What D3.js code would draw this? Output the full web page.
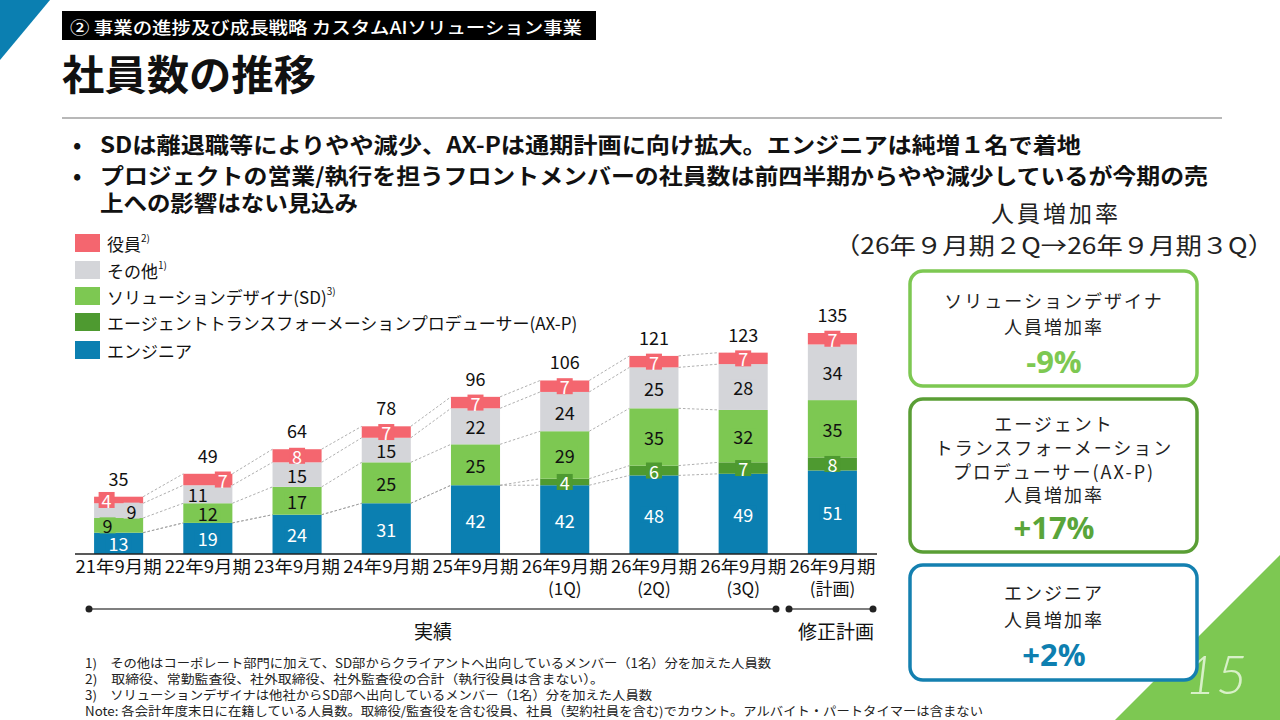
<!DOCTYPE html>
<html><head><meta charset="utf-8">
<script src="https://cdn.jsdelivr.net/npm/d3@7"></script>
<style>
body{margin:0;background:#fff}
svg{display:block}
text{font-family:"Noto Sans CJK JP","Noto Sans",sans-serif}
</style>
</head><body>
<svg id="c" width="1280" height="720"></svg>
<script>
// ---------- data ----------
const categories = ["21年9月期","22年9月期","23年9月期","24年9月期","25年9月期","26年9月期","26年9月期","26年9月期","26年9月期"];
const subLabels = ["","","","","","(1Q)","(2Q)","(3Q)","(計画)"];
const engineer = [13,19,24,31,42,42,48,49,51];
const axp      = [0,0,0,0,0,4,6,7,8];
const sd       = [9,12,17,25,25,29,35,32,35];
const other    = [9,11,15,15,22,24,25,28,34];
const officer  = [4,7,8,7,7,7,7,7,7];
const totals   = [35,49,64,78,96,106,121,123,135];
const seriesKeys  = ["engineer","axp","sd","other","officer"];
const legendNames = ["役員","その他","ソリューションデザイナ(SD)","エージェントトランスフォーメーションプロデューサー(AX-P)","エンジニア"];
const legendSups  = ["2)","1)","3)","",""];
const rateTitles  = [["ソリューションデザイナ","人員増加率"],["エージェント","トランスフォーメーション","プロデューサー(AX-P)","人員増加率"],["エンジニア","人員増加率"]];
const rateValues  = ["-9%","+17%","+2%"];
const bullets = ["SDは離退職等によりやや減少、AX-Pは通期計画に向け拡大。エンジニアは純増１名で着地",
  "プロジェクトの営業/執行を担うフロントメンバーの社員数は前四半期からやや減少しているが今期の売",
  "上への影響はない見込み"];
const footnotes = ["1)　その他はコーポレート部門に加えて、SD部からクライアントへ出向しているメンバー（1名）分を加えた人員数",
  "2)　取締役、常勤監査役、社外取締役、社外監査役の合計（執行役員は含まない）。",
  "3)　ソリューションデザイナは他社からSD部へ出向しているメンバー（1名）分を加えた人員数",
  "Note: 各会計年度末日に在籍している人員数。取締役/監査役を含む役員、社員（契約社員を含む)でカウント。アルバイト・パートタイマーは含まない"];

// ---------- styles ----------
const colors = {engineer:"#0b7fb1", axp:"#4e9a30", sd:"#7dc852", other:"#d4d5d9", officer:"#f4666f"};
const legendColors = [colors.officer, colors.other, colors.sd, colors.axp, colors.engineer];
const labelColors = {engineer:"#fff", axp:"#fff", sd:"#111", other:"#111", officer:"#fff"};
const labelNudge = {"0-officer":-12,"0-other":13,"0-sd":-11,"1-officer":15,"1-other":-10};

const svg = d3.select("#c");

// decorations
svg.append("path").attr("d","M0,0 L50,0 L0,60 Z").attr("fill","#0b7fb1");
svg.append("path").attr("d","M1280,555 L1280,720 L1115,720 Z").attr("fill","#7dc852");
svg.append("text").attr("x",1216).attr("y",694).attr("text-anchor","middle")
  .attr("font-size",54).attr("font-style","italic").attr("font-weight",300)
  .style("font-family","Lato, 'Open Sans', sans-serif").attr("fill","#d8f0c8").text("15");

// header
svg.append("rect").attr("x",62).attr("y",11).attr("width",534).attr("height",29).attr("fill","#000");
svg.append("text").attr("x",70).attr("y",26).attr("dominant-baseline","central")
  .attr("font-size",17).attr("font-weight",500).attr("fill","#fff")
  .attr("textLength",512).attr("lengthAdjust","spacingAndGlyphs")
  .text("② 事業の進捗及び成長戦略 カスタムAIソリューション事業");
svg.append("text").attr("x",62).attr("y",72).attr("dominant-baseline","central")
  .attr("font-size",41).attr("font-weight",700).attr("fill","#111")
  .attr("textLength",254).attr("lengthAdjust","spacingAndGlyphs").text("社員数の推移");
svg.append("line").attr("x1",62).attr("x2",1222).attr("y1",118).attr("y2",118).attr("stroke","#a0a0a0").attr("stroke-width",1.5);

// bullets
const bulletY = [143,174,201];
const bulletLen = [981,1108,258];
bullets.forEach((b,i)=>{
  if(i<2) svg.append("text").attr("x",73).attr("y",bulletY[i]).attr("dominant-baseline","central")
    .attr("font-size",22).attr("font-weight",700).attr("fill","#111").text("•");
  svg.append("text").attr("x",100).attr("y",bulletY[i]).attr("dominant-baseline","central")
    .attr("font-size",22).attr("font-weight",700).attr("fill","#111")
    .attr("textLength",bulletLen[i]).attr("lengthAdjust","spacingAndGlyphs").text(b);
});

// legend
const legY = [243,270,296,322,350];
legendNames.forEach((n,i)=>{
  svg.append("rect").attr("x",75).attr("y",legY[i]-9).attr("width",25).attr("height",18).attr("fill",legendColors[i]);
  const t = svg.append("text").attr("x",107).attr("y",legY[i]).attr("dominant-baseline","central")
    .attr("font-size",17).attr("fill","#111");
  t.append("tspan").text(n);
  if(legendSups[i]) t.append("tspan").attr("font-size",10).attr("dy",-6).text(legendSups[i]);
});

// ---------- chart ----------
const x = d3.scaleBand().domain(d3.range(categories.length)).range([74,877]).paddingInner(0.45).paddingOuter(0.225);
const y = d3.scaleLinear().domain([0, d3.max(totals)]).range([554,333]);
const bw = x.bandwidth();
const rows = categories.map((c,i)=>({i, engineer:engineer[i], axp:axp[i], sd:sd[i], other:other[i], officer:officer[i]}));
const stack = d3.stack().keys(seriesKeys)(rows);

// connectors
const gConn = svg.append("g");
stack.forEach(layer=>{
  for(let i=0;i<7;i++){
    const a = layer[i], b = layer[i+1];
    gConn.append("line").attr("x1",x(i)+bw).attr("y1",y(a[1])).attr("x2",x(i+1)).attr("y2",y(b[1]))
      .attr("stroke","#9a9a9a").attr("stroke-width",0.8).attr("stroke-dasharray","2.5,2");
  }
});

// bars
stack.forEach(layer=>{
  svg.append("g").selectAll("rect").data(layer).join("rect")
    .attr("x",(d,i)=>x(i)).attr("width",bw)
    .attr("y",d=>y(d[1])).attr("height",d=>y(d[0])-y(d[1]))
    .attr("fill",colors[layer.key]);
});

// segment labels
const gLab = svg.append("g");
stack.forEach(layer=>{
  layer.forEach((d,i)=>{
    const v = d[1]-d[0];
    if(!v) return;
    const cx = x(i)+bw/2 + (labelNudge[i+"-"+layer.key]||0);
    const cy = (y(d[0])+y(d[1]))/2;
    const w = String(v).length*10+6;
    gLab.append("rect").attr("x",cx-w/2).attr("y",cy-8).attr("width",w).attr("height",16).attr("fill",colors[layer.key]);
    gLab.append("text").attr("x",cx).attr("y",cy).attr("text-anchor","middle").attr("dominant-baseline","central")
      .attr("font-size",18).attr("fill",labelColors[layer.key]).text(v);
  });
});

// totals
svg.append("g").selectAll("text").data(totals).join("text")
  .attr("x",(d,i)=>x(i)+bw/2).attr("y",d=>y(d)-11).attr("text-anchor","middle")
  .attr("font-size",18).attr("fill","#111").text(d=>d);

// axis
const xAxis = d3.axisBottom(x).tickSize(0).tickFormat(i=>categories[i]);
const gx = svg.append("g").attr("transform","translate(0,554)").call(xAxis);
gx.select(".domain").attr("d","M75,0H877").attr("stroke","#222").attr("stroke-width",1.5);
gx.selectAll(".tick text").attr("y",13).attr("dy","0.35em").attr("font-size",17.5).attr("fill","#111")
  .style("font-family","'Noto Sans CJK JP',sans-serif")
  .attr("textLength",86).attr("lengthAdjust","spacingAndGlyphs");
gx.selectAll(".tick").append("text").attr("y",35).attr("dy","0.35em").attr("text-anchor","middle")
  .attr("font-size",17).attr("fill","#111").text(i=>subLabels[i]);

// timeline
function seg(x1,x2,label,lx){
  svg.append("line").attr("x1",x1).attr("x2",x2).attr("y1",609).attr("y2",609).attr("stroke","#555").attr("stroke-width",1.3);
  [x1,x2].forEach(v=>svg.append("circle").attr("cx",v).attr("cy",609).attr("r",3.5).attr("fill","#222"));
  svg.append("text").attr("x",lx).attr("y",630).attr("text-anchor","middle").attr("dominant-baseline","central")
    .attr("font-size",19).attr("fill","#111").text(label);
}
seg(89,776,"実績",433);
seg(789,873,"修正計画",836);

// footnotes
const fnY = [662,678,694,710];
const fnLen = [686,519,567,898];
footnotes.forEach((f,i)=>{
  svg.append("text").attr("x",85).attr("y",fnY[i]).attr("dominant-baseline","central")
    .attr("font-size",12.5).attr("fill","#222")
    .attr("textLength",fnLen[i]).attr("lengthAdjust","spacingAndGlyphs").text(f);
});

// right panel
svg.append("text").attr("x",1056).attr("y",212).attr("text-anchor","middle").attr("dominant-baseline","central")
  .attr("font-size",23).attr("letter-spacing",3).attr("fill","#222").text("人員増加率");
svg.append("text").attr("x",1054).attr("y",244).attr("text-anchor","middle").attr("dominant-baseline","central")
  .attr("font-size",23).attr("fill","#222").attr("textLength",440).attr("lengthAdjust","spacingAndGlyphs")
  .text("（26年９月期２Q→26年９月期３Q）");

const boxes = [
  {y:271,h:115,stroke:"#7dc852",vc:"#7dc852",lines:[300,326],vy:361},
  {y:399,h:153,stroke:"#5a9e35",vc:"#5aa53a",lines:[423,447,471,494],vy:527},
  {y:565,h:115,stroke:"#1480b0",vc:"#0e7fb0",lines:[592,619],vy:654}
];
boxes.forEach((b,k)=>{
  svg.append("rect").attr("x",910).attr("y",b.y).attr("width",287).attr("height",b.h)
    .attr("rx",13).attr("fill","#fff").attr("stroke",b.stroke).attr("stroke-width",3.5);
  rateTitles[k].forEach((t,j)=>{
    svg.append("text").attr("x",1054).attr("y",b.lines[j]).attr("text-anchor","middle").attr("dominant-baseline","central")
      .attr("font-size",18).attr("letter-spacing",2).attr("fill","#222").text(t);
  });
  svg.append("text").attr("x",1054).attr("y",b.vy).attr("text-anchor","middle").attr("dominant-baseline","central")
    .attr("font-size",31).attr("font-weight",700).style("font-family","'Open Sans',sans-serif")
    .attr("fill",b.vc).text(rateValues[k]);
});
</script>
</body></html>
